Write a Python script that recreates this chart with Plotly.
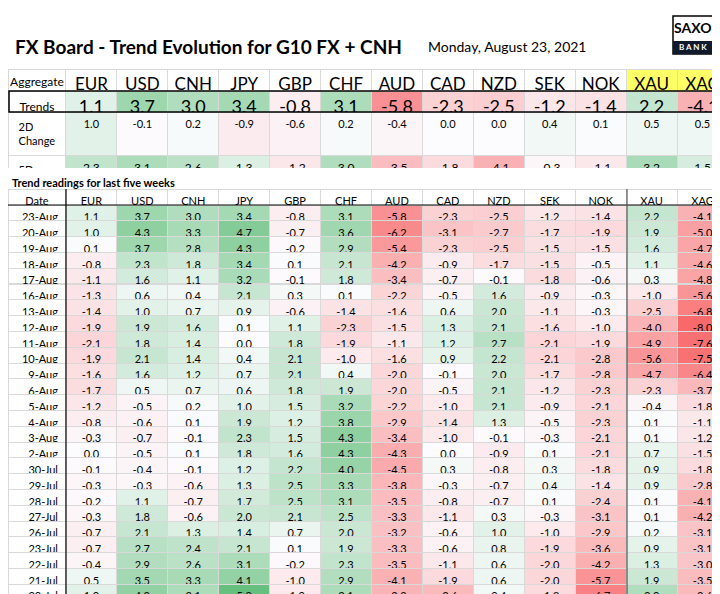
import plotly.graph_objects as go

H = 594
W = 720

currencies = ['EUR', 'USD', 'CNH', 'JPY', 'GBP', 'CHF', 'AUD', 'CAD', 'NZD', 'SEK', 'NOK', 'XAU', 'XAG']
trends = [1.1, 3.7, 3.0, 3.4, -0.8, 3.1, -5.8, -2.3, -2.5, -1.2, -1.4, 2.2, -4.1]
change_2d = [1.0, -0.1, 0.2, -0.9, -0.6, 0.2, -0.4, 0.0, 0.0, 0.4, 0.1, 0.5, 0.5]
change_5d = [2.3, 3.1, 2.6, 1.3, -1.2, 3.0, -3.5, -1.8, -4.1, -0.3, -1.1, 3.2, 1.5]

dates = ['23-Aug', '20-Aug', '19-Aug', '18-Aug', '17-Aug', '16-Aug', '13-Aug', '12-Aug', '11-Aug',
         '10-Aug', '9-Aug', '6-Aug', '5-Aug', '4-Aug', '3-Aug', '2-Aug', '30-Jul', '29-Jul',
         '28-Jul', '27-Jul', '26-Jul', '23-Jul', '22-Jul', '21-Jul', '20-Jul']
eur = [1.1, 1.0, 0.1, -0.8, -1.1, -1.3, -1.4, -1.9, -2.1, -1.9, -1.6, -1.7, -1.2, -0.8, -0.3, 0.0,
       -0.1, -0.3, -0.2, -0.3, -0.7, -0.7, -0.4, 0.5, 1.0]
usd = [3.7, 4.3, 3.7, 2.3, 1.6, 0.6, 1.0, 1.9, 1.8, 2.1, 1.6, 0.5, -0.5, -0.6, -0.7, -0.5,
       -0.4, -0.3, 1.1, 1.8, 2.1, 2.7, 2.9, 3.5, 4.2]
cnh = [3.0, 3.3, 2.8, 1.8, 1.1, 0.4, 0.7, 1.6, 1.4, 1.4, 1.2, 0.7, 0.2, 0.1, -0.1, 0.1,
       -0.1, -0.6, -0.7, -0.6, 1.3, 2.4, 2.6, 3.3, 3.1]
jpy = [3.4, 4.7, 4.3, 3.4, 3.2, 2.1, 0.9, 0.1, 0.0, 0.4, 0.7, 0.6, 1.0, 1.9, 2.3, 1.8,
       1.2, 1.3, 1.7, 2.0, 1.4, 2.1, 3.1, 4.1, 5.9]
gbp = [-0.8, -0.7, -0.2, 0.1, -0.1, 0.3, -0.6, 1.1, 1.8, 2.1, 2.1, 1.8, 1.5, 1.2, 1.5, 1.6,
       2.2, 2.5, 2.5, 2.1, 0.7, 0.1, -0.2, -1.0, -1.0]
chf = [3.1, 3.6, 2.9, 2.1, 1.8, 0.1, -1.4, -2.3, -1.9, -1.0, 0.4, 1.9, 3.2, 3.8, 4.3, 4.3,
       4.0, 3.3, 3.1, 2.5, 2.0, 1.9, 2.3, 2.9, 3.1]
aud = [-5.8, -6.2, -5.4, -4.2, -3.4, -2.2, -1.6, -1.5, -1.1, -1.6, -2.0, -2.0, -2.2, -2.9, -3.4, -4.3,
       -4.5, -3.8, -3.5, -3.3, -3.2, -3.3, -3.5, -4.1, -3.9]
cad = [-2.3, -3.1, -2.3, -0.9, -0.7, -0.5, 0.6, 1.3, 1.2, 0.9, -0.1, -0.5, -1.0, -1.4, -1.0, 0.0,
       0.3, -0.3, -0.8, -1.1, -0.6, -0.6, -1.1, -1.9, -3.6]
nzd = [-2.5, -2.7, -2.5, -1.7, -0.1, 1.6, 2.0, 2.1, 2.7, 2.2, 2.0, 2.1, 2.1, 1.3, -0.1, -0.9,
       -0.8, -0.7, -0.7, 0.3, 1.0, 0.8, 0.6, 0.6, 0.4]
sek = [-1.2, -1.7, -1.5, -1.5, -1.8, -0.9, -1.1, -1.6, -2.1, -2.1, -1.7, -1.2, -0.9, -0.5, -0.3, 0.1,
       0.3, 0.4, 0.1, -0.3, -1.0, -1.9, -2.0, -2.0, -1.8]
nok = [-1.4, -1.9, -1.5, -0.5, -0.6, -0.3, -0.3, -1.0, -1.9, -2.8, -2.8, -2.3, -2.1, -2.3, -2.1, -2.1,
       -1.8, -1.4, -2.4, -3.1, -2.9, -3.6, -4.2, -5.7, -6.7]
xau = [2.2, 1.9, 1.6, 1.1, 0.3, -1.0, -2.5, -4.0, -4.9, -5.6, -4.7, -2.3, -0.4, 0.1, 0.1, 0.7,
       0.9, 0.9, 0.1, 0.1, 0.2, 0.9, 1.3, 1.9, 3.0]
xag = [-4.1, -5.0, -4.7, -4.6, -4.8, -5.6, -6.8, -8.0, -7.6, -7.5, -6.4, -3.7, -1.8, -1.1, -1.2, -1.5,
       -1.8, -2.8, -4.1, -4.2, -3.1, -3.1, -3.0, -3.5, -3.6]
history = [eur, usd, cnh, jpy, gbp, chf, aud, cad, nzd, sek, nok, xau, xag]

FONT = 'Lato'
GRID = '#d9d9d9'


def cell_color(v, lo=-8.0, hi=6.0):
    """Excel style red - white - green scale"""
    white = (252, 252, 255)
    if v >= 0:
        t = min(v / hi, 1.0)
        end = (99, 190, 123)
    else:
        t = min(v / lo, 1.0)
        end = (248, 105, 107)
    rgb = [round(w + (e - w) * t) for w, e in zip(white, end)]
    return 'rgb(%d,%d,%d)' % tuple(rgb)


def ydom(top, bottom):
    return [max(0.0, 1 - bottom / H), min(1.0, 1 - top / H)]


def fmt(vals):
    return ['%.1f' % v for v in vals]


colw = [58] + [51] * 13

fig = go.Figure()

# aggregate header + trends row
fig.add_trace(go.Table(
    domain=dict(x=[0, 1], y=ydom(61, 106)),
    columnwidth=colw,
    header=dict(values=['Aggregate'] + currencies, height=22,
                fill_color=['white'] * 12 + ['#ffff66'] * 2,
                line_color=GRID, align='center',
                font=dict(family=FONT, size=[12] + [17] * 13, color='black')),
    cells=dict(values=[['Trends ->']] + [['%.1f' % v] for v in trends], height=22,
               fill_color=['white'] + [[cell_color(v)] for v in trends],
               line_color=GRID, align='center',
               font=dict(family=FONT, size=[12] + [18] * 13, color='black'))
))

# 2D / 5D change rows
fig.add_trace(go.Table(
    domain=dict(x=[0, 1], y=ydom(104, 160)),
    columnwidth=colw,
    header=dict(values=['2D Change'] + fmt(change_2d), height=16,
                fill_color=['white'] + [cell_color(v) for v in change_2d],
                line_color=GRID, align='center',
                font=dict(family=FONT, size=11, color='black')),
    cells=dict(values=[['5D Change', '↑ Momentum']] + [['%.1f' % v, ''] for v in change_5d],
               height=16,
               fill_color=[['white', 'white']] + [[cell_color(v), 'white'] for v in change_5d],
               line_color=GRID, align='center',
               font=dict(family=FONT, size=[11, 12], color='black'))
))

# trend history
fig.add_trace(go.Table(
    domain=dict(x=[0, 1], y=ydom(181, 600)),
    columnwidth=colw,
    header=dict(values=['Date'] + currencies, height=16,
                fill_color='white', line_color=GRID, align='center',
                font=dict(family=FONT, size=11, color='black')),
    cells=dict(values=[dates] + [fmt(c) for c in history], height=15.8,
               fill_color=[['white'] * len(dates)] + [[cell_color(v) for v in c] for c in history],
               line_color=GRID, align=['right'] + ['center'] * 13,
               font=dict(family=FONT, size=11, color='black'))
))

fig.update_layout(
    width=W, height=H,
    margin=dict(l=0, r=0, t=0, b=0),
    paper_bgcolor='white',
    annotations=[
        dict(text='<b>FX Board - Trend Evolution for G10 FX + CNH</b>', x=5 / W, y=1 - 38 / H,
             xref='paper', yref='paper', xanchor='left', yanchor='middle', showarrow=False,
             font=dict(family=FONT, size=19, color='black')),
        dict(text='Monday, August 23, 2021', x=418 / W, y=1 - 39 / H,
             xref='paper', yref='paper', xanchor='left', yanchor='middle', showarrow=False,
             font=dict(family=FONT, size=14, color='black')),
        dict(text='<b>Trend readings for last five weeks</b>', x=2 / W, y=1 - 174 / H,
             xref='paper', yref='paper', xanchor='left', yanchor='middle', showarrow=False,
             font=dict(family=FONT, size=11, color='black')),
        dict(text='<b>SAXO</b>', x=685 / W, y=1 - 20 / H,
             xref='paper', yref='paper', xanchor='center', yanchor='middle', showarrow=False,
             font=dict(family=FONT, size=14, color='black')),
        dict(text='<b>B A N K</b>', x=685 / W, y=1 - 39 / H,
             xref='paper', yref='paper', xanchor='center', yanchor='middle', showarrow=False,
             font=dict(family=FONT, size=8, color='white')),
    ],
    shapes=[
        dict(type='rect', xref='paper', yref='paper', x0=665 / W, x1=706 / W,
             y0=1 - 46 / H, y1=1 - 8 / H, line=dict(color='black', width=1.5), fillcolor='white',
             layer='below'),
        dict(type='rect', xref='paper', yref='paper', x0=665 / W, x1=706 / W,
             y0=1 - 46 / H, y1=1 - 33 / H, line=dict(width=0), fillcolor='#111a2c',
             layer='below'),
        dict(type='rect', xref='paper', yref='paper', x0=1 / W, x1=719 / W,
             y0=1 - 104 / H, y1=1 - 83 / H, line=dict(color='black', width=1.5)),
        dict(type='line', xref='paper', yref='paper', x0=0, x1=1,
             y0=1 - 197 / H, y1=1 - 197 / H, line=dict(color='black', width=1.2)),
        dict(type='line', xref='paper', yref='paper', x0=58 / W, x1=58 / W,
             y0=0, y1=1 - 181 / H, line=dict(color='black', width=1.2)),
        dict(type='line', xref='paper', yref='paper', x0=619 / W, x1=619 / W,
             y0=0, y1=1 - 181 / H, line=dict(color='#555555', width=1.2)),
    ],
)

fig.write_html("out.html")
